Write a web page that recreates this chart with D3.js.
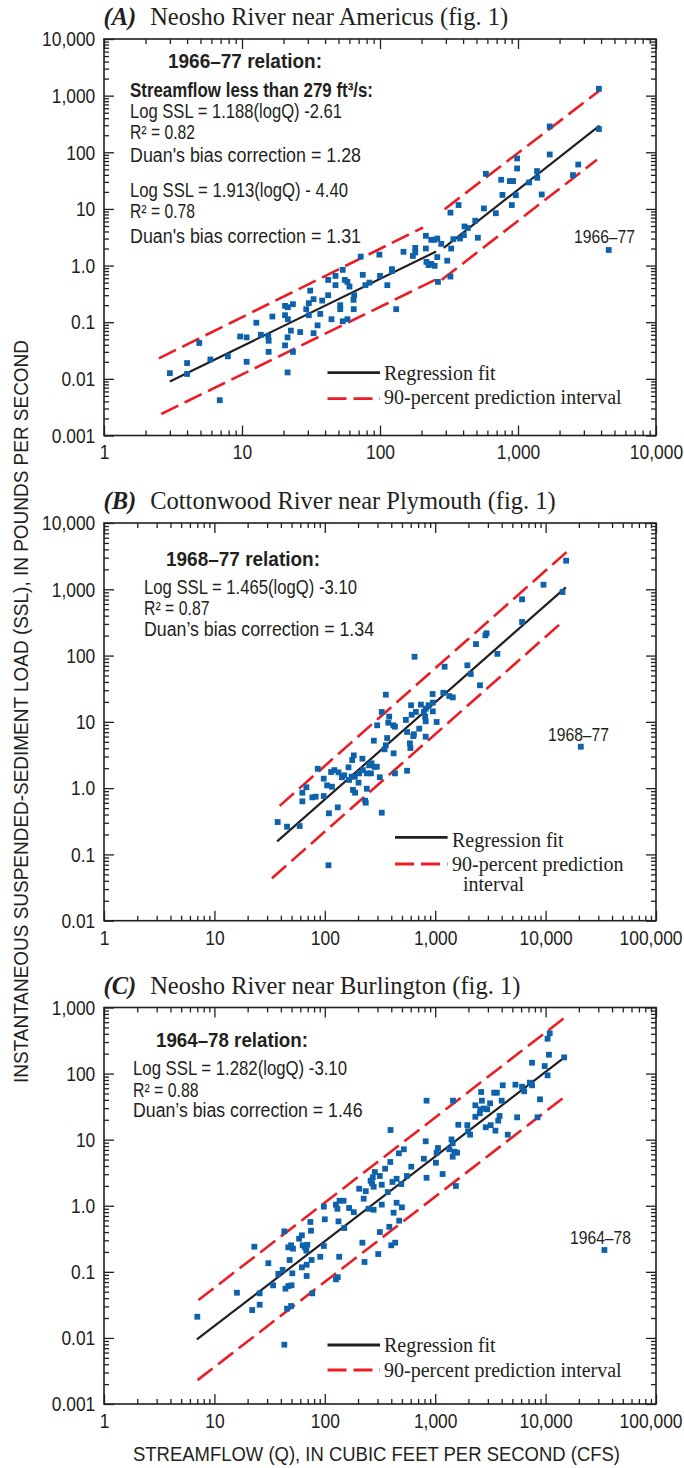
<!DOCTYPE html>
<html>
<head>
<meta charset="utf-8">
<script src="https://cdn.jsdelivr.net/npm/d3@7"></script>
<style>
  body { margin: 0; background: #fff; }
  svg { display: block; }
</style>
</head>
<body>
<svg id="chart" width="684" height="1468"></svg>
<script>
// ---------- Panel A: Neosho River near Americus ----------
const qA = [3.0,4.0,4.0,4.9,5.9,6.9,7.9,9.7,10.8,10.8,
  12.7,13.7,15.5,15.6,15.6,16.6,20.5,20.5,20.5,21.4,
  21.4,21.5,23.4,21.5,22.6,23.4,26.4,29.2,30.5,30.5,
  31.2,33.0,33.0,35.3,36.9,38.1,42.1,42.1,44.5,47.6,
  47.6,53.7,53.7,55.6,58.1,58.1,60.1,51.5,51.5,64.3,
  65,64.5,72.5,75.0,78.4,83.8,99,100,113,122,
  131,148,122,173,180,180,215,215,217,225,
  235,235,248,249,260,260,278,263,307,324,
  328,324,340,371,380,405,410,433,490,512,
  566,585,691,755,771,873,902,922,965,985,
  985,1203,1374,1380,1486,1698,1698,2502,2733,3857,
  3857];
const sslA = [0.0126,0.019,0.0122,0.043,0.022,0.0042,0.025,0.056,0.054,0.020,
  0.098,0.060,0.057,0.047,0.030,0.126,0.194,0.133,0.039,0.054,
  0.013,0.184,0.208,0.113,0.071,0.030,0.067,0.170,0.217,0.133,
  0.361,0.255,0.064,0.088,0.140,0.241,0.558,0.300,0.113,0.657,
  0.451,0.84,0.104,0.558,0.515,0.113,0.426,0.200,0.170,0.248,
  0.300,0.170,1.44,0.686,0.451,0.50,1.56,0.657,0.451,0.863,
  0.170,1.75,0.80,1.48,2.05,1.70,3.35,2.0,1.16,1.02,
  2.85,1.07,2.85,0.99,3.0,1.41,2.42,0.515,1.22,8.6,
  2.0,0.64,2.93,11.7,3.0,3.44,4.9,4.6,6.2,3.1,
  10.2,41.7,8.4,32.7,17.7,31,11.7,31,17.5,77.8,
  51.8,29.3,46.6,35.4,18.0,286,91.5,39.5,60.8,1324,
  257];
// regression fit (two streamflow ranges) and 90-percent prediction interval
const fitQA1 = [3, 255],   fitSA1 = [0.0090, 1.77];
const fitQA2 = [290, 3900], fitSA2 = [2.05, 295];
const upQA1 = [2.5, 205],  upSA1 = [0.023, 4.7];
const upQA2 = [294, 3970], upSA2 = [9.9, 1270];
const loQA1 = [2.6, 255],  loSA1 = [0.0024, 0.57];
const loQA2 = [280, 3730], loSA2 = [0.56, 73.6];

// ---------- Panel B: Cottonwood River near Plymouth ----------
const qB = [37.4,45.5,59.2,62.6,62.6,68.1,77.1,82.7,86.3,97.8,
  97.8,105,109,108,114,116,122,131,133,143,
  150,164,166,175,177,183,180,188,187,202,
  205,219,221,232,240,240,235,252,262,265,
  278,282,296,298,315,328,328,357,348,357,
  367,383,376,417,420,432,432,542,556,556,
  590,596,605,612,633,641,668,717,742,790,
  811,820,820,820,871,947,952,952,1030,1184,
  1217,1342,1444,1955,2100,2545,650,2342,2850,2920,
  3657,6120,6120,9570,14230,15350];
const sslB = [0.308,0.262,0.268,0.853,0.632,1.03,0.726,0.743,1.96,0.76,
  1.39,1.10,0.417,0.0686,1.75,1.05,1.87,0.513,1.73,1.46,
  1.56,2.06,1.33,1.49,2.65,3.12,0.94,0.853,1.49,1.21,
  1.67,2.78,1.87,0.646,0.98,1.67,0.603,2.21,1.67,2.37,
  5.2,2.1,2.1,8.87,1.46,14.1,0.426,25.7,3.85,4.43,
  5.7,12.0,9.7,8.87,3.35,1.67,8.46,10.7,7.03,1.83,
  4.74,4.03,17.8,12.8,6.1,6.5,14.1,7.9,18.2,14.1,
  12.0,10.2,5.97,15.8,17.8,26.3,14.4,19.5,9.95,27.5,
  67.9,24.5,23.4,71.3,52.7,35.6,96,149,202,217,
  106,321,706,1172,910,2700];
const fitQB = [37, 15250], fitSB = [0.157, 1067];
const upQB  = [39, 16000], upSB  = [0.54, 3820];
const loQB  = [33.2, 13940], loSB = [0.0436, 313];

// ---------- Panel C: Neosho River near Burlington ----------
const qC = [7.0,16.0,22.0,23.0,25.7,25.7,30.8,34.0,37.9,41.5,
  43,43,44,45.5,46.7,46.7,48,49.5,49.5,50,
  50.8,51.5,58.5,62,62,63,66.2,68,68.5,68.5,
  69.5,74,75,76,77,91,98,98,100,126,
  130,126,131,133,135,136,148,150,166,183,
  205,219,225,229,235,249,260,268,277,277,
  272,284,315,315,305,328,328,352,372,384,
  392,400,410,420,434,447,447,472,493,499,
  607,
  394,469,520,554,790,835,820,835,1015,1030,
  1060,1167,1342,1405,1440,1440,1450,1490,1540,1580,
  1620,1955,1985,2070,2310,2310,2535,2570,2610,2650,
  2760,2870,2960,3140,3180,3420,3620,3510,3720,3830,
  4000,4090,4540,5330,5520,6120,6400,7200,7540,7540,
  8450,8900,9810,10420,10420,10720,10900,14720];
const sslC = [0.0209,0.0483,0.0264,0.240,0.0473,0.0318,0.135,0.0625,0.093,0.107,
  0.41,0.0079,0.0556,0.0277,0.235,0.061,0.151,0.252,0.0304,0.0625,
  0.095,0.224,0.317,0.357,0.117,0.252,0.235,0.209,0.128,0.0865,
  0.256,0.568,0.419,0.151,0.0473,0.169,0.97,0.246,0.624,1.04,
  0.90,0.077,0.083,0.58,0.169,1.19,1.19,0.46,0.925,0.80,
  1.81,0.276,1.28,0.141,1.66,0.90,2.39,2.18,0.87,1.94,
  2.69,3.24,2.82,0.40,0.186,2.08,1.04,3.64,1.61,0.48,
  4.59,0.252,2.29,0.785,0.276,2.56,1.11,0.594,2.13,0.946,
  3.90,
  14.0,6.22,7.15,2.82,5.15,2.65,9.45,38.9,4.48,6.35,
  7.48,3.02,7.15,10.1,8.81,5.52,38.9,6.58,1.99,6.35,
  16.8,16.6,13.4,11.9,33.1,22.2,25.1,28.8,52.6,38.9,
  29.6,15.4,28.8,35.5,16.6,51.4,51.4,13.7,19.4,22.8,
  38.9,66.5,11.9,67.9,21.8,63.2,54,72.8,66.5,146,
  21.8,40.8,130,94.2,337,193,407,176];
const fitQC = [6.94, 14930], fitSC = [0.0095, 178];
const upQC  = [7.17, 15570], upSC  = [0.0374, 743];
const loQC  = [7.03, 14930], loSC  = [0.0023, 44.7];

// ---------- Axis ticks and labels ----------
const xTicksA = [1, 10, 100, 1000, 10000];
const xLabelsA = ["1", "10", "100", "1,000", "10,000"];
const xTicksBC = [1, 10, 100, 1000, 10000, 100000];
const xLabelsBC = ["1", "10", "100", "1,000", "10,000", "100,000"];
const yTicksA = [0.001, 0.01, 0.1, 1, 10, 100, 1000, 10000];
const yLabelsA = ["0.001", "0.01", "0.1", "1.0", "10", "100", "1,000", "10,000"];
const yTicksB = [0.01, 0.1, 1, 10, 100, 1000, 10000];
const yLabelsB = ["0.01", "0.1", "1.0", "10", "100", "1,000", "10,000"];
const yTicksC = [0.001, 0.01, 0.1, 1, 10, 100, 1000];
const yLabelsC = ["0.001", "0.01", "0.1", "1.0", "10", "100", "1,000"];

// ---------- drawing ----------
const svg = d3.select("#chart");
const L = 104, R = 656, EDGE = 682;
const SANS = "'Liberation Sans', Arial, Helvetica, sans-serif";
const SERIF = "'Liberation Serif', 'Times New Roman', Times, serif";
const INK = "#231f20", BLUE = "#0e62ab", RED = "#ec1c24";
const TICK_SIZE = 21, COND = 0.83; // narrow, tall lettering for tick labels

function minorTicks(domain) {
  const out = [];
  const lo = Math.round(Math.log10(domain[0])), hi = Math.round(Math.log10(domain[1]));
  for (let e = lo; e < hi; e++) for (let k = 2; k <= 9; k++) out.push(k * Math.pow(10, e));
  return out;
}

function txt(g, x, y, s, o = {}) {
  const t = g.append("text").attr("x", x).attr("y", y)
    .attr("font-family", o.family || SANS).attr("font-size", o.size || 19.5)
    .attr("fill", INK).text(s);
  if (o.weight) t.attr("font-weight", o.weight);
  if (o.anchor) t.attr("text-anchor", o.anchor);
  if (o.len) t.attr("textLength", o.len).attr("lengthAdjust", "spacingAndGlyphs");
  return t;
}

function styleAxis(sel) {
  sel.attr("color", INK).attr("font-family", SANS).attr("font-size", TICK_SIZE);
  sel.select(".domain").remove();
  sel.selectAll("line").attr("stroke-width", 1.3);
}

function drawPanel(p) {
  const x = d3.scaleLog().domain(p.xDomain).range([L, R]);
  const y = d3.scaleLog().domain(p.yDomain).range([p.bottom, p.top]);
  const g = svg.append("g");
  const xMinor = minorTicks(p.xDomain), yMinor = minorTicks(p.yDomain);
  const xFmt = d => p.xLabels[p.xTicks.indexOf(d)];
  const yFmt = d => p.yLabels[p.yTicks.indexOf(d)];
  const none = () => "";

  // bottom axis with labels, top axis ticks only (all ticks point inward)
  g.append("g").attr("transform", `translate(0,${p.bottom})`)
    .call(d3.axisBottom(x).tickValues(p.xTicks).tickSizeInner(-10).tickSizeOuter(0).tickPadding(9).tickFormat(xFmt))
    .call(styleAxis)
    .call(s => {
      s.selectAll("text").attr("transform", `scale(${COND},1)`);
      // the last label keeps inside the page edge
      const lastX = x(p.xDomain[1]);
      s.selectAll(".tick").filter(d => d === p.xDomain[1] && d >= 100000).select("text")
        .attr("text-anchor", "end").attr("x", (EDGE - lastX) / COND);
    });
  g.append("g").attr("transform", `translate(0,${p.bottom})`)
    .call(d3.axisBottom(x).tickValues(xMinor).tickSizeInner(-5).tickSizeOuter(0).tickFormat(none)).call(styleAxis);
  g.append("g").attr("transform", `translate(0,${p.top})`)
    .call(d3.axisTop(x).tickValues(p.xTicks).tickSizeInner(-10).tickSizeOuter(0).tickFormat(none)).call(styleAxis);
  g.append("g").attr("transform", `translate(0,${p.top})`)
    .call(d3.axisTop(x).tickValues(xMinor).tickSizeInner(-5).tickSizeOuter(0).tickFormat(none)).call(styleAxis);

  // left axis with labels, right axis ticks only
  g.append("g").attr("transform", `translate(${L},0)`)
    .call(d3.axisLeft(y).tickValues(p.yTicks).tickSizeInner(-10).tickSizeOuter(0).tickPadding(10.5).tickFormat(yFmt))
    .call(styleAxis)
    .call(s => s.selectAll("text").attr("transform", `scale(${COND},1)`));
  g.append("g").attr("transform", `translate(${L},0)`)
    .call(d3.axisLeft(y).tickValues(yMinor).tickSizeInner(-5).tickSizeOuter(0).tickFormat(none)).call(styleAxis);
  g.append("g").attr("transform", `translate(${R},0)`)
    .call(d3.axisRight(y).tickValues(p.yTicks).tickSizeInner(-10).tickSizeOuter(0).tickFormat(none)).call(styleAxis);
  g.append("g").attr("transform", `translate(${R},0)`)
    .call(d3.axisRight(y).tickValues(yMinor).tickSizeInner(-5).tickSizeOuter(0).tickFormat(none)).call(styleAxis);

  // frame
  g.append("rect").attr("x", L).attr("y", p.top).attr("width", R - L).attr("height", p.bottom - p.top)
    .attr("fill", "none").attr("stroke", INK).attr("stroke-width", 1.6);

  // regression fit and prediction interval
  const line = d3.line().x(d => x(d[0])).y(d => y(d[1]));
  p.bands.forEach(b => g.append("path").attr("d", line(d3.zip(b[0], b[1])))
    .attr("fill", "none").attr("stroke", RED).attr("stroke-width", 2.6).attr("stroke-dasharray", "19,7"));
  p.fits.forEach(f => g.append("path").attr("d", line(d3.zip(f[0], f[1])))
    .attr("fill", "none").attr("stroke", INK).attr("stroke-width", 2.2));

  // samples
  const S = 5.8;
  g.selectAll("rect.pt").data(d3.zip(p.q, p.s)).join("rect").attr("class", "pt")
    .attr("x", d => x(d[0]) - S / 2).attr("y", d => y(d[1]) - S / 2)
    .attr("width", S).attr("height", S).attr("fill", BLUE);

  // panel title
  const t = svg.append("text").attr("x", 103.5).attr("y", p.titleY)
    .attr("font-family", SERIF).attr("font-size", 24.5).attr("fill", INK);
  t.append("tspan").attr("font-weight", "bold").attr("font-style", "italic").text(p.tag);
  t.append("tspan").attr("dx", 14).text(p.title);

  // relation notes
  p.notes.forEach(n => txt(g, n.x, n.y, n.s, { weight: n.b ? "bold" : null, len: n.w, size: n.b ? 20 : 19.5 }));

  // symbol key for the sampling period
  txt(g, p.key.tx, p.key.ty, p.key.s, { len: 61, size: 19 });
  g.append("rect").attr("x", p.key.px - S / 2).attr("y", p.key.py - S / 2)
    .attr("width", S).attr("height", S).attr("fill", BLUE);

  // line legend
  const lg = p.legend;
  g.append("line").attr("x1", lg.x1).attr("x2", lg.x2).attr("y1", lg.y1).attr("y2", lg.y1)
    .attr("stroke", INK).attr("stroke-width", 2.8);
  g.append("line").attr("x1", lg.x1).attr("x2", lg.x2).attr("y1", lg.y2).attr("y2", lg.y2)
    .attr("stroke", RED).attr("stroke-width", 2.8).attr("stroke-dasharray", "19,7");
  lg.texts.forEach(tt => txt(g, tt.x, tt.y, tt.s, { family: SERIF, size: 20 }));
}

drawPanel({
  xDomain: [1, 10000], yDomain: [0.001, 10000], top: 39, bottom: 435.5,
  xTicks: xTicksA, xLabels: xLabelsA, yTicks: yTicksA, yLabels: yLabelsA,
  q: qA, s: sslA,
  fits: [[fitQA1, fitSA1], [fitQA2, fitSA2]],
  bands: [[upQA1, upSA1], [upQA2, upSA2], [loQA1, loSA1], [loQA2, loSA2]],
  tag: "(A)", title: "Neosho River near Americus (fig. 1)", titleY: 25,
  notes: [
    { x: 168, y: 68.3, s: "1966–77 relation:", b: true, w: 154 },
    { x: 130, y: 97.3, s: "Streamflow less than 279 ft³/s:", b: true, w: 243 },
    { x: 130, y: 118.3, s: "Log SSL = 1.188(logQ) -2.61", w: 212 },
    { x: 130, y: 139.3, s: "R² = 0.82", w: 65 },
    { x: 130, y: 161.5, s: "Duan's bias correction = 1.28", w: 231 },
    { x: 130, y: 197, s: "Log SSL = 1.913(logQ) - 4.40", w: 218 },
    { x: 130, y: 218.3, s: "R² = 0.78", w: 65 },
    { x: 130, y: 243, s: "Duan's bias correction = 1.31", w: 231 }
  ],
  key: { s: "1966–77", tx: 574, ty: 243.3, px: 608.7, py: 250 },
  legend: { x1: 327.5, x2: 380, y1: 372.7, y2: 398.7,
    texts: [{ x: 384, y: 380, s: "Regression fit" }, { x: 384, y: 404, s: "90-percent prediction interval" }] }
});

drawPanel({
  xDomain: [1, 100000], yDomain: [0.01, 10000], top: 523, bottom: 920.7,
  xTicks: xTicksBC, xLabels: xLabelsBC, yTicks: yTicksB, yLabels: yLabelsB,
  q: qB, s: sslB,
  fits: [[fitQB, fitSB]],
  bands: [[upQB, upSB], [loQB, loSB]],
  tag: "(B)", title: "Cottonwood River near Plymouth (fig. 1)", titleY: 509,
  notes: [
    { x: 166, y: 566, s: "1968–77 relation:", b: true, w: 154 },
    { x: 144, y: 594.3, s: "Log SSL = 1.465(logQ) -3.10", w: 213 },
    { x: 144, y: 615, s: "R² = 0.87", w: 65.5 },
    { x: 144, y: 635.5, s: "Duan’s bias correction = 1.34", w: 230 }
  ],
  key: { s: "1968–77", tx: 548, ty: 740.7, px: 580.8, py: 746.7 },
  legend: { x1: 395, x2: 447.6, y1: 837.3, y2: 864,
    texts: [{ x: 452, y: 846.5, s: "Regression fit" }, { x: 452, y: 871, s: "90-percent prediction" },
            { x: 463, y: 890.5, s: "interval" }] }
});

drawPanel({
  xDomain: [1, 100000], yDomain: [0.001, 1000], top: 1007.5, bottom: 1404,
  xTicks: xTicksBC, xLabels: xLabelsBC, yTicks: yTicksC, yLabels: yLabelsC,
  q: qC, s: sslC,
  fits: [[fitQC, fitSC]],
  bands: [[upQC, upSC], [loQC, loSC]],
  tag: "(C)", title: "Neosho River near Burlington (fig. 1)", titleY: 994,
  notes: [
    { x: 156, y: 1047.3, s: "1964–78 relation:", b: true, w: 152 },
    { x: 133, y: 1075, s: "Log SSL = 1.282(logQ) -3.10", w: 214 },
    { x: 133, y: 1096.7, s: "R² = 0.88", w: 65.5 },
    { x: 133, y: 1117.2, s: "Duan’s bias correction = 1.46", w: 229.5 }
  ],
  key: { s: "1964–78", tx: 570, ty: 1244, px: 604.4, py: 1250 },
  legend: { x1: 327.5, x2: 380, y1: 1345, y2: 1370,
    texts: [{ x: 384, y: 1351.7, s: "Regression fit" }, { x: 384, y: 1376.7, s: "90-percent prediction interval" }] }
});

// shared axis titles
svg.append("text").attr("transform", "translate(28,711.5) rotate(-90)")
  .attr("text-anchor", "middle").attr("font-family", SANS).attr("font-size", 21).attr("fill", INK)
  .attr("textLength", 743).attr("lengthAdjust", "spacingAndGlyphs")
  .text("INSTANTANEOUS SUSPENDED-SEDIMENT LOAD (SSL), IN POUNDS PER SECOND");
svg.append("text").attr("x", 133).attr("y", 1461)
  .attr("font-family", SANS).attr("font-size", 20).attr("fill", INK)
  .attr("textLength", 487).attr("lengthAdjust", "spacingAndGlyphs")
  .text("STREAMFLOW (Q), IN CUBIC FEET PER SECOND (CFS)");
</script>
</body>
</html>
